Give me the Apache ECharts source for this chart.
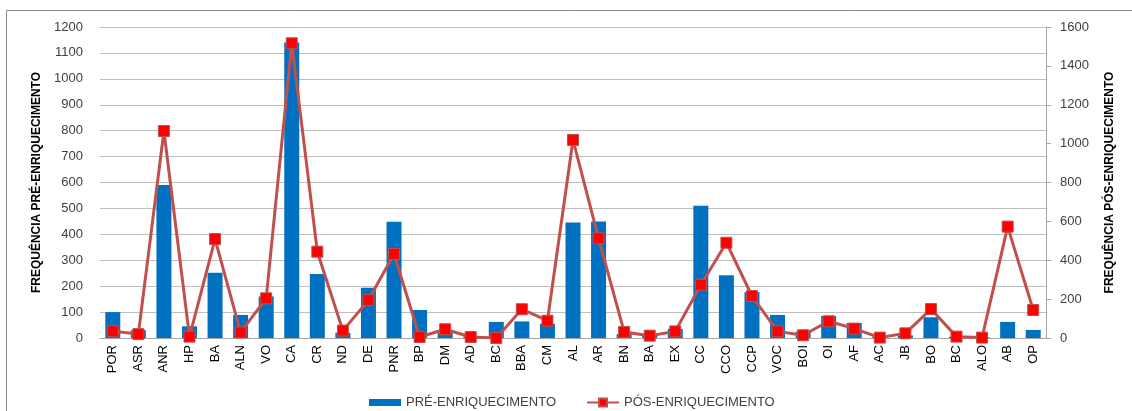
<!DOCTYPE html>
<html>
<head>
<meta charset="utf-8">
<script src="https://cdn.jsdelivr.net/npm/echarts@6/dist/echarts.min.js"></script>
<style>
  html, body { margin: 0; padding: 0; background: #ffffff; }
  #chart { width: 1132px; height: 411px; }
</style>
</head>
<body>
<div id="chart"></div>
<script>
// Categories (short codes), in display order
const categories = ['POR','ASR','ANR','HP','BA','ALN','VO','CA','CR','ND','DE','PNR','BP','DM','AD','BC','BBA','CM','AL','AR','BN','BA','EX','CC','CCO','CCP','VOC','BOI','OI','AF','AC','JB','BO','BC','ALO','AB','OP'];

// Frequency before enrichment (left axis)
const preEnrichment = [100,30,590,45,252,89,160,1140,247,20,194,449,108,20,5,62,64,55,446,450,15,10,35,510,242,177,89,25,85,58,5,10,80,5,3,62,31];

// Frequency after enrichment (right axis)
const postEnrichment = [35,20,1065,7,509,29,204,1516,444,38,195,432,5,45,5,0,148,89,1019,513,31,12,34,274,490,216,34,14,86,48,2,24,149,7,2,573,144];

// Axis scales
const leftAxisMax = 1200, leftAxisStep = 100;
const rightAxisMax = 1600, rightAxisStep = 200;

const seriesNames = ['PRÉ-ENRIQUECIMENTO', 'PÓS-ENRIQUECIMENTO'];
const axisTitles = ['FREQUÊNCIA PRÉ-ENRIQUECIMENTO', 'FREQUÊNCIA PÓS-ENRIQUECIMENTO'];

const baseFont = "'Liberation Sans', Arial, sans-serif";
const titleFont = "'Liberation Sans Narrow', 'Liberation Sans', Arial, sans-serif";

// Plain integers, no thousands separator
const plainNumber = v => String(v);

const chart = echarts.init(document.getElementById('chart'), null, { renderer: 'canvas' });

chart.setOption({
  animation: false,
  backgroundColor: '#ffffff',
  graphic: [{
    type: 'rect',
    shape: { x: 6.5, y: 10.5, width: 1140, height: 420 },
    style: { fill: 'none', stroke: '#8c8c8c', lineWidth: 1 },
    silent: true,
    z: -1
  }],
  grid: { left: 100, right: 86, top: 27, bottom: 73 },
  legend: {
    left: 364,
    top: 391,
    itemWidth: 32,
    itemHeight: 10,
    itemGap: 30,
    textStyle: { fontFamily: baseFont, fontSize: 13, color: '#404040' },
    data: [
      { name: seriesNames[0], icon: 'path://M0,0H32V7H0Z' },
      { name: seriesNames[1] }
    ]
  },
  xAxis: {
    type: 'category',
    data: categories,
    boundaryGap: true,
    axisLine: { show: true, lineStyle: { color: '#a6a6a6', width: 1 } },
    axisTick: { show: false },
    axisLabel: {
      rotate: 90,
      interval: 0,
      margin: 7,
      fontFamily: baseFont,
      fontSize: 13,
      color: '#000000'
    }
  },
  yAxis: [{
    type: 'value',
    min: 0,
    max: leftAxisMax,
    interval: leftAxisStep,
    name: axisTitles[0],
    nameLocation: 'middle',
    nameRotate: 90,
    nameGap: 50,
    nameTextStyle: { fontFamily: titleFont, fontSize: 12, fontWeight: 'bold', color: '#000000' },
    axisLine: { show: false },
    axisTick: { show: false },
    axisLabel: { margin: 17, fontFamily: baseFont, fontSize: 13, color: '#404040', formatter: plainNumber },
    splitLine: { show: true, lineStyle: { color: '#bfbfbf', width: 1 } }
  }, {
    type: 'value',
    position: 'right',
    min: 0,
    max: rightAxisMax,
    interval: rightAxisStep,
    name: axisTitles[1],
    nameLocation: 'middle',
    nameRotate: 90,
    nameGap: 58,
    nameTextStyle: { fontFamily: titleFont, fontSize: 12, fontWeight: 'bold', color: '#000000' },
    axisLine: { show: true, lineStyle: { color: '#a6a6a6', width: 1 } },
    axisTick: { show: true, inside: false, length: 5, lineStyle: { color: '#a6a6a6' } },
    axisLabel: { margin: 14, fontFamily: baseFont, fontSize: 13, color: '#404040', formatter: plainNumber },
    splitLine: { show: false }
  }],
  series: [{
    name: seriesNames[0],
    type: 'bar',
    yAxisIndex: 0,
    data: preEnrichment,
    barWidth: 15,
    itemStyle: { color: '#0070c0' }
  }, {
    name: seriesNames[1],
    type: 'line',
    yAxisIndex: 1,
    data: postEnrichment,
    symbol: 'rect',
    symbolSize: 11,
    lineStyle: { color: '#c0504d', width: 3 },
    itemStyle: { color: '#ff0000', borderColor: '#c0504d', borderWidth: 1 }
  }]
});
</script>
</body>
</html>
